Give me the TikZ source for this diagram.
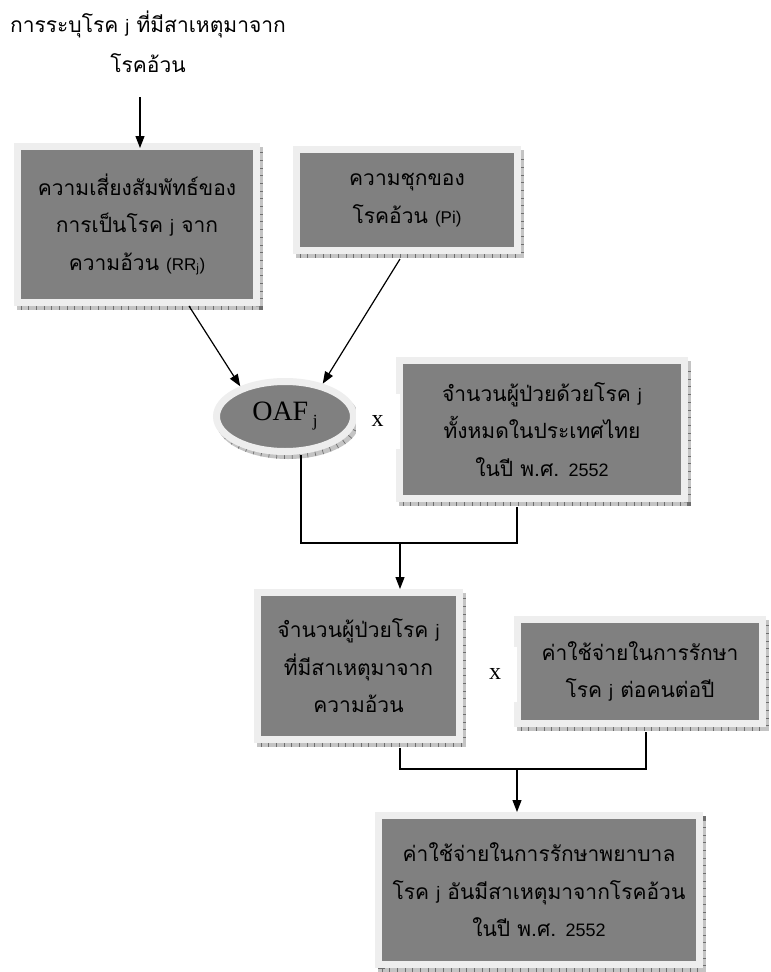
\documentclass[tikz,border=0pt]{standalone}
\usepackage{fontspec}
\setmainfont{Liberation Serif}
\newfontfamily\thaifont[Script=Thai]{Loma}
\newfontfamily\latfont{Liberation Sans}
\usetikzlibrary{shapes.geometric, arrows.meta, calc}

\definecolor{boxgray}{HTML}{808080}
\definecolor{boxrim}{HTML}{EEEEEE}
\definecolor{shadowgray}{HTML}{C4C4C4}
\definecolor{tickgray}{HTML}{6E6E6E}

\newcommand{\lat}[1]{{\latfont\fontsize{18}{18}\selectfont #1}}
\newcommand{\latsmall}[1]{{\latfont\fontsize{17}{17}\selectfont #1}}

\tikzset{
  flowbox/.style={rectangle, fill=boxgray, draw=boxrim, line width=7pt,
    inner sep=0pt, align=center, font=\thaifont\fontsize{21}{37.5}\selectfont,
    preaction={fill=shadowgray, draw=shadowgray, line width=7pt,
      transform canvas={shift={(3pt,-4pt)}}},
    preaction={draw=tickgray, line width=7pt, dash pattern=on 0.7pt off 7pt,
      transform canvas={shift={(3pt,-4pt)}}}},
  oafbox/.style={flowbox, ellipse, font=\rmfamily\fontsize{28}{28}\selectfont},
  timesbox/.style={fill=white, minimum width=44pt, minimum height=55pt,
    font=\rmfamily\fontsize{24}{24}\selectfont},
  line/.style={line width=1.2pt},
  arr/.style={line, -{Triangle[width=9pt, length=12pt]}}
}

\begin{document}
\begin{tikzpicture}[x=1pt, y=-1pt]
  \useasboundingbox[fill=white] (0,0) rectangle (771,972);

  % Cause text at the top
  \node[align=center, inner sep=0pt, minimum height=110pt,
        font=\thaifont\fontsize{21}{40}\selectfont] (cause) at (148,42)
    {การระบุโรค \lat{j} ที่มีสาเหตุมาจาก\\โรคอ้วน};

  % Boxes
  \node[flowbox, minimum width=239pt, minimum height=156pt] (rr) at (137,224.5)
    {ความเสี่ยงสัมพัทธ์ของ\\การเป็นโรค \lat{j} จาก\\ความอ้วน \latsmall{(RR\textsubscript{j})}};
  \node[flowbox, minimum width=221pt, minimum height=101pt] (pi) at (407,200)
    {ความชุกของ\\โรคอ้วน \latsmall{(Pi)}};
  \node[oafbox, minimum width=137pt, minimum height=70pt] (oaf) at (285,416.5)
    {OAF\,\raisebox{-6pt}{\fontsize{17}{17}\selectfont j}};
  \node[flowbox, minimum width=285pt, minimum height=138pt] (patients) at (542,429.5)
    {จำนวนผู้ป่วยด้วยโรค \lat{j}\\ทั้งหมดในประเทศไทย\\ในปี พ.ศ. \lat{2552}};
  \node[flowbox, minimum width=202pt, minimum height=147pt] (obese) at (358.5,666)
    {จำนวนผู้ป่วยโรค \lat{j}\\ที่มีสาเหตุมาจาก\\ความอ้วน};
  \node[flowbox, minimum width=245pt, minimum height=104pt] (cost) at (640,671.5)
    {ค่าใช้จ่ายในการรักษา\\โรค \lat{j} ต่อคนต่อปี};
  \node[flowbox, minimum width=321pt, minimum height=149pt] (totalcost) at (539,890)
    {ค่าใช้จ่ายในการรักษาพยาบาล\\โรค \lat{j} อันมีสาเหตุมาจากโรคอ้วน\\ในปี พ.ศ. \lat{2552}};

  % Connectors
  \draw[arr] ($(cause.south)+(-8,0)$) -- ($(rr.north)+(3,5)$);
  \draw[arr] ($(rr.south)+(52,0)$) -- (oaf.146);
  \draw[arr] ($(pi.south)+(-7,5)$) -- (oaf.41);

  \coordinate (join1) at (400,543);
  \draw[line] ($(oaf.south)+(16,0)$) |- (join1) -| ($(patients.south)+(-25,5)$);
  \draw[arr] (join1) -- (join1 |- obese.north);

  \coordinate (join2) at (517,769);
  \draw[line] ($(obese.south)+(41.5,5)$) |- (join2) -| ($(cost.south)+(6,5)$);
  \draw[arr] (join2) -- (join2 |- totalcost.north);

  % Multiplication signs
  \node[timesbox] (times1) at (377.5,421) {x};
  \node[timesbox] (times2) at (495,674) {x};
\end{tikzpicture}
\end{document}
